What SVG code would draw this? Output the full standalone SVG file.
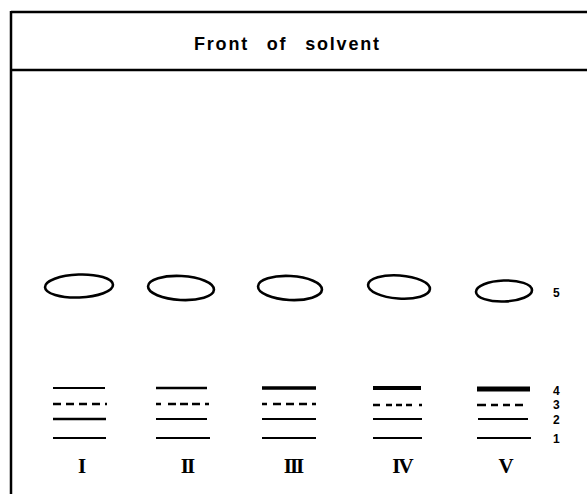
<svg xmlns="http://www.w3.org/2000/svg" width="587" height="494" viewBox="0 0 587 494">
  <style>
    .frame { stroke: #000; stroke-width: 2.5; fill: none; }
    .spot { stroke: #000; stroke-width: 2.6; fill: none; }
    .band { stroke: #000; stroke-width: 2; fill: none; }
    .dash { stroke: #000; stroke-width: 2.4; fill: none; stroke-dasharray: 8 5; }
    .title { font-family: "Liberation Sans", Arial, sans-serif; font-size: 18px; font-weight: bold; letter-spacing: 1.8px; word-spacing: 11px; fill: #000; }
    .num { font-family: "Liberation Sans", Arial, sans-serif; font-size: 12px; font-weight: bold; fill: #000; }
    .lane { font-family: "Liberation Serif", "Times New Roman", serif; font-size: 21px; font-weight: bold; fill: #000; text-anchor: middle; letter-spacing: -2px; }
  </style>

  <rect width="587" height="494" fill="#fff"/>

  <!-- plate outline: top edge, solvent front line, left edge -->
  <g id="plate">
    <line class="frame" x1="11" y1="12" x2="587" y2="12"/>
    <line class="frame" x1="11" y1="70" x2="587" y2="70"/>
    <line class="frame" x1="11" y1="11" x2="11" y2="494"/>
    <text class="title" x="194" y="50">Front of solvent</text>
  </g>

  <!-- spot 5 in each lane -->
  <g id="spots">
    <ellipse class="spot" cx="79" cy="286" rx="34" ry="11.5" transform="rotate(-2 79 286)"/>
    <ellipse class="spot" cx="181" cy="288" rx="33" ry="12" transform="rotate(3 181 288)"/>
    <ellipse class="spot" cx="290" cy="288" rx="32" ry="12" transform="rotate(3 290 288)"/>
    <ellipse class="spot" cx="399" cy="287" rx="31" ry="11.5" transform="rotate(4 399 287)"/>
    <ellipse class="spot" cx="504" cy="291" rx="28" ry="10.5" transform="rotate(-2 504 291)"/>
  </g>

  <!-- bands 1-4 per lane -->
  <g id="lane-I">
    <line class="band" x1="53" y1="388" x2="105" y2="388" style="stroke-width:2"/>
    <line class="dash" x1="53" y1="404" x2="107" y2="404"/>
    <line class="band" x1="53" y1="419" x2="106" y2="419" style="stroke-width:2.4"/>
    <line class="band" x1="53" y1="438" x2="106" y2="438"/>
    <text class="lane" x="81" y="473">I</text>
  </g>
  <g id="lane-II">
    <line class="band" x1="156" y1="388" x2="207" y2="388" style="stroke-width:2.6"/>
    <line class="dash" x1="156" y1="404" x2="209" y2="404" style="stroke-dasharray:5 7 8 4 8 4 8"/>
    <line class="band" x1="156" y1="419" x2="207" y2="419"/>
    <line class="band" x1="156" y1="438" x2="210" y2="438"/>
    <text class="lane" x="187" y="473">II</text>
  </g>
  <g id="lane-III">
    <line class="band" x1="262" y1="388" x2="316" y2="388" style="stroke-width:3.4"/>
    <line class="dash" x1="262" y1="404" x2="316" y2="404" style="stroke-dasharray:5 6 8 5 8 5 8"/>
    <line class="band" x1="262" y1="419" x2="316" y2="419"/>
    <line class="band" x1="262" y1="438" x2="316" y2="438"/>
    <text class="lane" x="293" y="473">III</text>
  </g>
  <g id="lane-IV">
    <line class="band" x1="373" y1="388" x2="421" y2="388" style="stroke-width:4.2"/>
    <line class="dash" x1="373" y1="405" x2="422" y2="405" style="stroke-dasharray:7 6 6 4 6 4 6"/>
    <line class="band" x1="373" y1="419" x2="422" y2="419"/>
    <line class="band" x1="373" y1="438" x2="422" y2="438"/>
    <text class="lane" x="402" y="473">IV</text>
  </g>
  <g id="lane-V">
    <line class="band" x1="477" y1="389" x2="530" y2="389" style="stroke-width:5.2"/>
    <line class="dash" x1="477" y1="405" x2="529" y2="405" style="stroke-dasharray:9 5 7 5 7 5 8"/>
    <line class="band" x1="478" y1="419" x2="528" y2="419"/>
    <line class="band" x1="477" y1="438" x2="531" y2="438"/>
    <text class="lane" x="505" y="473">V</text>
  </g>

  <!-- band numbers -->
  <g id="labels">
    <text class="num" x="553" y="297">5</text>
    <text class="num" x="553" y="395">4</text>
    <text class="num" x="553" y="409">3</text>
    <text class="num" x="553" y="424">2</text>
    <text class="num" x="553" y="443">1</text>
  </g>
</svg>
